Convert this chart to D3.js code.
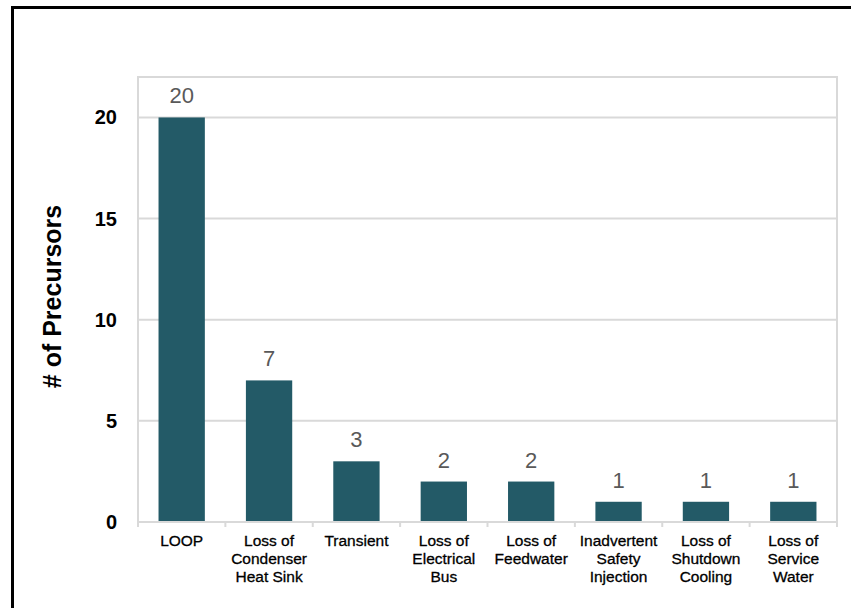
<!DOCTYPE html>
<meta charset="utf-8">
<html>
<head>
<script src="https://d3js.org/d3.v7.min.js"></script>
<style>
  body { margin: 0; background: #fff; }
  text { font-family: "Liberation Sans", Arial, sans-serif; }
</style>
</head>
<body>
<div id="chart"></div>
<script>
// data
var categories = [
  ["LOOP"],
  ["Loss of", "Condenser", "Heat Sink"],
  ["Transient"],
  ["Loss of", "Electrical", "Bus"],
  ["Loss of", "Feedwater"],
  ["Inadvertent", "Safety", "Injection"],
  ["Loss of", "Shutdown", "Cooling"],
  ["Loss of", "Service", "Water"]
];
var counts = [20, 7, 3, 2, 2, 1, 1, 1];
var yTicks = [0, 5, 10, 15, 20];

var W = 851, H = 608;
var pLeft = 138, pRight = 837, pTop = 77, pBottom = 522;

var svg = d3.select("#chart").append("svg")
    .attr("width", W)
    .attr("height", H);

// outer frame
svg.append("rect")
    .attr("x", 12.5).attr("y", 7.5)
    .attr("width", 860).attr("height", 620)
    .style("fill", "none")
    .style("stroke", "#000")
    .style("stroke-width", 3);

var x = d3.scaleBand()
    .domain(d3.range(categories.length))
    .range([pLeft, pRight])
    .paddingInner(0.47)
    .paddingOuter(0.235);

var xb = d3.scaleBand()
    .domain(d3.range(categories.length))
    .range([pLeft, pRight]);

var y = d3.scaleLinear().domain([0, 22]).range([pBottom, pTop]);

// gridlines
svg.selectAll(".grid")
    .data(yTicks.filter(function(d){ return d > 0; }))
    .enter().append("line")
    .attr("x1", pLeft).attr("x2", pRight)
    .attr("y1", function(d){ return y(d); })
    .attr("y2", function(d){ return y(d); })
    .style("stroke", "#d9d9d9")
    .style("stroke-width", 2);

// plot border
svg.append("path")
    .attr("d", "M" + pLeft + "," + pBottom + "V" + pTop + "H" + pRight + "V" + pBottom)
    .style("fill", "none")
    .style("stroke", "#d9d9d9")
    .style("stroke-width", 2);

// bars
svg.selectAll(".bar")
    .data(counts).enter()
    .append("rect")
    .attr("x", function(d, i){ return x(i); })
    .attr("y", function(d){ return y(d); })
    .attr("width", x.bandwidth())
    .attr("height", function(d){ return pBottom - y(d); })
    .style("fill", "#235a67");

// x axis line + ticks
svg.append("line")
    .attr("x1", pLeft).attr("x2", pRight)
    .attr("y1", pBottom).attr("y2", pBottom)
    .style("stroke", "#d9d9d9")
    .style("stroke-width", 2);

svg.selectAll(".xtick")
    .data(d3.range(categories.length + 1)).enter()
    .append("line")
    .attr("x1", function(d){ return pLeft + d * xb.bandwidth(); })
    .attr("x2", function(d){ return pLeft + d * xb.bandwidth(); })
    .attr("y1", pBottom).attr("y2", pBottom + 5)
    .style("stroke", "#d9d9d9")
    .style("stroke-width", 2);

// value labels
svg.selectAll(".val")
    .data(counts).enter()
    .append("text")
    .attr("x", function(d, i){ return x(i) + x.bandwidth() / 2; })
    .attr("y", function(d){ return y(d) - 14; })
    .attr("text-anchor", "middle")
    .style("font-size", "22px")
    .style("fill", "#595959")
    .text(function(d){ return d; });

// category labels (slightly heavier stroke to match the original rendering)
var cat = svg.selectAll(".cat")
    .data(categories).enter()
    .append("text")
    .attr("text-anchor", "middle")
    .style("font-size", "15.5px")
    .style("fill", "#000")
    .style("stroke", "#000")
    .style("stroke-width", 0.3);

cat.selectAll("tspan")
    .data(function(d, i){ return d.map(function(t){ return {t: t, i: i}; }); })
    .enter().append("tspan")
    .attr("x", function(d){ return xb(d.i) + xb.bandwidth() / 2; })
    .attr("y", function(d, j){ return 546 + j * 18; })
    .text(function(d){ return d.t; });

// y tick labels
svg.selectAll(".ylab")
    .data(yTicks).enter()
    .append("text")
    .attr("x", 117)
    .attr("y", function(d){ return y(d); })
    .attr("dy", "0.35em")
    .attr("text-anchor", "end")
    .style("font-size", "20px")
    .style("font-weight", "bold")
    .style("fill", "#000")
    .text(function(d){ return d; });

// y title
svg.append("text")
    .attr("transform", "translate(61," + ((pTop + pBottom) / 2 - 3) + ") rotate(-90)")
    .attr("text-anchor", "middle")
    .style("font-size", "25px")
    .style("font-weight", "bold")
    .style("fill", "#000")
    .text("# of Precursors");
</script>
</body>
</html>
